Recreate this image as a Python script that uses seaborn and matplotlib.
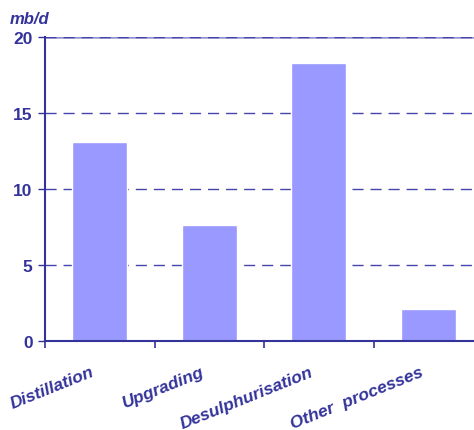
import matplotlib
matplotlib.use("Agg")
import matplotlib.pyplot as plt
import seaborn as sns
import pandas as pd

categories = ["Distillation", "Upgrading", "Desulphurisation", "Other  processes"]
capacity = [13.1, 7.6, 18.3, 2.1]
y_ticks = [0, 5, 10, 15, 20]

navy = "#33339a"
grid_color = "#4646aa"
bar_color = "#9999ff"

sns.set_theme(style="white")
plt.rcParams["font.family"] = ["Liberation Sans", "DejaVu Sans"]

df = pd.DataFrame({"process": categories, "mbd": capacity})

fig = plt.figure(figsize=(4.74, 4.31), dpi=100)
ax = fig.add_axes([45 / 474, 1 - 342 / 431, 438 / 474, 304 / 431])

sns.barplot(data=df, x="process", y="mbd", color=bar_color, width=0.5,
            saturation=1, ax=ax, zorder=3)

ax.set_xlim(-0.5, 3.5)
ax.set_ylim(0, 20)

for v in y_ticks[1:]:
    ax.axhline(v, color=grid_color, lw=1.0, ls=(0, (8, 5)), zorder=1)
ax.axhline(20, color="#9494cc", lw=1.8, zorder=1)
ax.axhline(20, color=grid_color, lw=1.0, ls=(0, (8, 5)), zorder=2)

for side in ["top", "right"]:
    ax.spines[side].set_visible(False)
for side in ["left", "bottom"]:
    ax.spines[side].set_color(navy)
    ax.spines[side].set_linewidth(1.5)
    ax.spines[side].set_zorder(4)

ax.set_yticks(y_ticks)
ax.set_yticklabels([str(v) for v in y_ticks], fontsize=12.5, fontweight="bold", color=navy)
ax.tick_params(axis="y", length=5, width=1, color=navy, left=True, pad=4)

# ticks at category boundaries, labels rotated under each bar
ax.set_xticks([-0.5, 0.5, 1.5, 2.5], minor=False)
ax.set_xticklabels([])
ax.tick_params(axis="x", length=5, width=1.2, color=navy, bottom=True, direction="out")
for i, name in enumerate(categories):
    ax.text(i - 0.08, -1.5, name, rotation=22, ha="right", va="top",
            rotation_mode="anchor", fontsize=12.5, fontweight="bold",
            fontstyle="italic", color=navy)

ax.set_xlabel("")
ax.set_ylabel("")
fig.text(10 / 474, 1 - 24 / 431, "mb/d", fontsize=12, fontweight="bold",
         fontstyle="italic", color=navy)

fig.savefig("out.png", dpi=100)
